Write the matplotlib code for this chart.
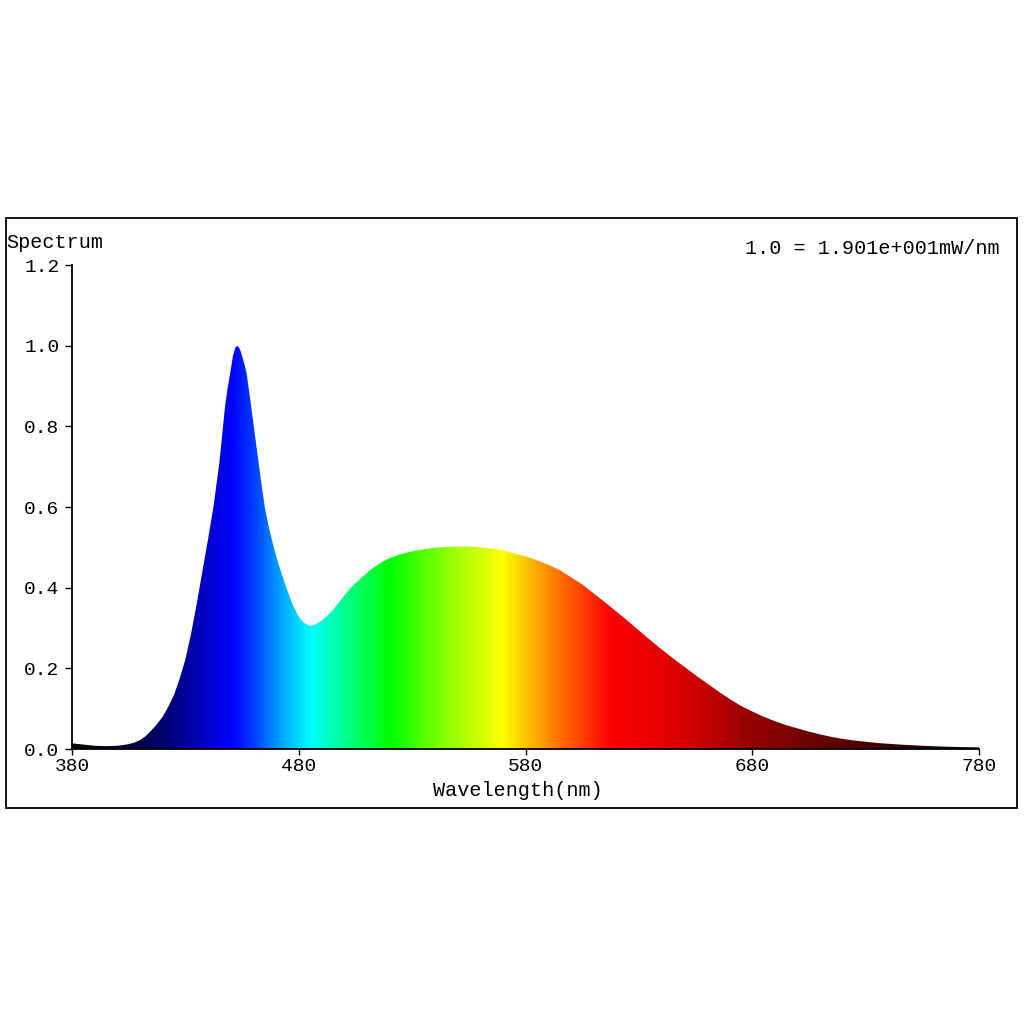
import numpy as np
import matplotlib
matplotlib.use("Agg")
import matplotlib.pyplot as plt
from matplotlib.patches import Polygon, Rectangle
from matplotlib.colors import LinearSegmentedColormap

plt.rcParams['font.family'] = ['Liberation Mono', 'DejaVu Sans Mono']

# spectrum (relative, 1.0 = 19.01 mW/nm)
wavelength = [380, 385, 390, 395, 400, 405, 407.5, 410, 412.5, 415, 417.5, 420,
              422.5, 425, 427.5, 430, 432.5, 435, 437.5, 440, 442.5, 445, 447.5,
              448.5, 450, 451, 452, 453, 454, 455, 456, 457, 459, 461, 463, 465,
              467, 469, 471, 473, 475, 477.5, 480, 482.5, 485, 487.5, 490, 492.5,
              495, 497.5, 500, 502.5, 505, 507.5, 510, 512.5, 515, 517.5, 520,
              525, 530, 535, 540, 545, 550, 555, 560, 565, 570, 575, 580, 585,
              590, 595, 600, 605, 610, 615, 620, 625, 630, 635, 640, 645, 650,
              655, 660, 665, 670, 675, 680, 685, 690, 695, 700, 705, 710, 715,
              720, 725, 730, 735, 740, 745, 750, 755, 760, 765, 770, 775, 780]
spectrum = [0.014, 0.011, 0.008, 0.007, 0.008, 0.012, 0.016, 0.022, 0.032, 0.046,
            0.062, 0.08, 0.105, 0.134, 0.175, 0.222, 0.285, 0.36, 0.44, 0.52,
            0.605, 0.71, 0.849, 0.89, 0.94, 0.975, 0.995, 1.0, 0.992, 0.975,
            0.955, 0.932, 0.85, 0.765, 0.68, 0.60, 0.545, 0.50, 0.46, 0.425,
            0.392, 0.356, 0.328, 0.312, 0.305, 0.309, 0.318, 0.33, 0.344, 0.362,
            0.38, 0.397, 0.411, 0.424, 0.436, 0.448, 0.457, 0.466, 0.473,
            0.483, 0.490, 0.495, 0.499, 0.501, 0.502, 0.502, 0.500, 0.497,
            0.492, 0.485, 0.478, 0.468, 0.457, 0.444, 0.426, 0.408, 0.386,
            0.364, 0.341, 0.318, 0.294, 0.270, 0.247, 0.225, 0.204, 0.183,
            0.163, 0.143, 0.124, 0.107, 0.093, 0.080, 0.069, 0.059, 0.051,
            0.043, 0.036, 0.030, 0.025, 0.021, 0.018, 0.015, 0.013, 0.011,
            0.0095, 0.008, 0.0068, 0.0058, 0.005, 0.0045, 0.004]

xticks = [380, 480, 580, 680, 780]
yticks = [0.0, 0.2, 0.4, 0.6, 0.8, 1.0, 1.2]

# colour of each wavelength (style only)
anchors = [(380, (0, 0, 0)), (410, (0, 0, 0.3)), (420, (0, 0, 0.45)),
           (435, (0, 0, 0.72)), (450, (0, 0, 1)), (460, (0, 0.25, 1)),
           (470, (0, 0.6, 1)), (485, (0, 1, 1)), (500, (0, 1, 0.55)),
           (520, (0, 1, 0)), (545, (0.55, 1, 0)), (570, (1, 1, 0)),
           (592, (1, 0.5, 0)), (618, (1, 0, 0)), (650, (0.85, 0, 0)),
           (680, (0.58, 0, 0)), (720, (0.35, 0, 0)), (760, (0.1, 0, 0)),
           (780, (0, 0, 0))]
cmap = LinearSegmentedColormap.from_list(
    'spec', [((w - 380) / 400, c) for w, c in anchors])

fig = plt.figure(figsize=(10.24, 10.24), dpi=100)
ax = fig.add_axes([72 / 1024, 1 - 749 / 1024, 907 / 1024, 484 / 1024])

grad = np.linspace(0, 1, 800)[None, :]
im = ax.imshow(grad, cmap=cmap, aspect='auto', extent=[380, 780, 0, 1.2],
               origin='lower', interpolation='bilinear')
verts = [(380, 0)] + list(zip(wavelength, spectrum)) + [(780, 0)]
poly = Polygon(verts, closed=True, facecolor='none', edgecolor='none')
ax.add_patch(poly)
im.set_clip_path(poly)

ax.set_xlim(380, 780)
ax.set_ylim(0, 1.2)
ax.set_xticks(xticks)
ax.set_yticks(yticks)
ax.set_yticklabels([f"{v:.1f}" for v in yticks])
for s in ['top', 'right']:
    ax.spines[s].set_visible(False)
for s in ['left', 'bottom']:
    ax.spines[s].set_linewidth(1.3)
ax.tick_params(axis='both', direction='out', labelsize=14, width=1.0)
ax.tick_params(axis='y', length=5, pad=4)
ax.tick_params(axis='x', length=4.5, pad=2)

fig.text(6 / 1024, 1 - 242 / 1024, 'Spectrum', fontsize=14.5, va='center', ha='left')
fig.text(1000 / 1024, 1 - 249 / 1024, '1.0 = 1.901e+001mW/nm', fontsize=14.5,
         va='center', ha='right')
fig.text(518 / 1024, 1 - 791 / 1024, 'Wavelength(nm)', fontsize=14.5,
         va='center', ha='center')

fig.patches.append(Rectangle((6 / 1024, 1 - 808 / 1024), 1011 / 1024, 590 / 1024,
                             transform=fig.transFigure, fill=False,
                             edgecolor='black', linewidth=1.3))

fig.savefig('out.png', dpi=100)
